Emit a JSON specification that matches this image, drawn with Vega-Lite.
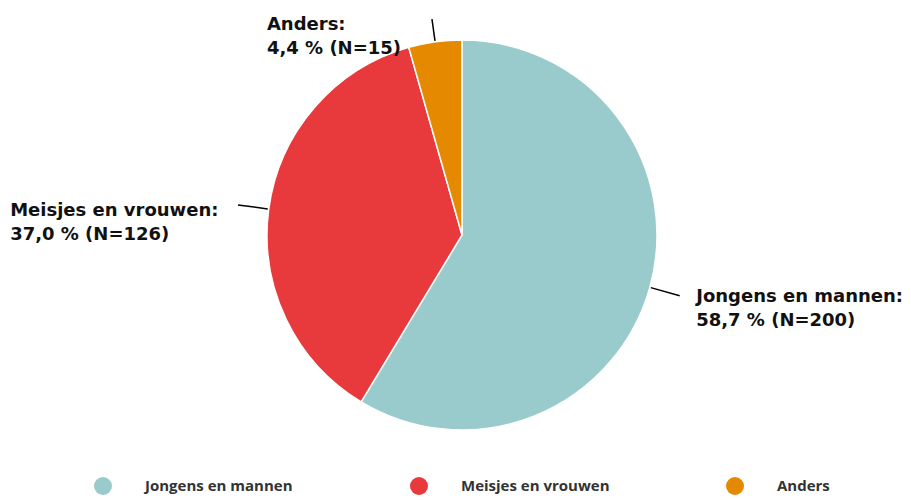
{
  "$schema": "https://vega.github.io/schema/vega-lite/v6.json",
  "width": 898,
  "height": 470,
  "padding": {"left": 10, "top": 0, "right": 0, "bottom": 0},
  "background": "white",
  "config": {
    "view": {"stroke": null},
    "legend": {"layout": {"bottom": {"anchor": "middle", "direction": "horizontal"}}}
  },
  "data": {
    "values": [
      {"category": "Jongens en mannen", "pct": 58.7, "n": 200},
      {"category": "Meisjes en vrouwen", "pct": 37.0, "n": 126},
      {"category": "Anders", "pct": 4.4, "n": 15}
    ]
  },
  "transform": [
    {"window": [{"op": "sum", "field": "n", "as": "cum"}], "frame": [null, 0]},
    {"calculate": "datum.cum - datum.n", "as": "start"},
    {"calculate": "datum.cum - datum.n / 2", "as": "mid"},
    {"calculate": "datum.category + ':\\n' + replace(format(datum.pct, '.1f'), '.', ',') + ' % (N=' + datum.n + ')'", "as": "label"}
  ],
  "layer": [
    {
      "mark": {"type": "arc", "outerRadius": 195, "innerRadius": 0, "stroke": "white", "strokeWidth": 1.5},
      "encoding": {
        "theta": {"field": "start", "type": "quantitative", "stack": null, "scale": {"domain": [0, 341]}},
        "theta2": {"field": "cum"},
        "color": {
          "field": "category",
          "type": "nominal",
          "scale": {
            "domain": ["Jongens en mannen", "Meisjes en vrouwen", "Anders"],
            "range": ["#9ACBCC", "#E83A3C", "#E58A00"]
          },
          "legend": {
            "title": null,
            "orient": "bottom",
            "direction": "horizontal",
            "symbolType": "circle",
            "symbolSize": 324,
            "symbolStrokeWidth": 0,
            "labelFont": "Open Sans",
            "labelFontSize": 15,
            "labelFontWeight": 700,
            "labelColor": "#333333",
            "labelOffset": 33,
            "columnPadding": 116,
            "gridAlign": "all",
            "offset": 7,
            "labelLimit": 400
          }
        }
      }
    },
    {
      "transform": [{"filter": "datum.category !== 'Anders'"}],
      "mark": {"type": "arc", "outerRadius": 226, "innerRadius": 196, "stroke": "black", "strokeWidth": 1.5, "fillOpacity": 0},
      "encoding": {
        "theta": {"field": "mid", "type": "quantitative", "stack": null},
        "theta2": {"field": "mid"}
      }
    },
    {
      "transform": [{"filter": "datum.category === 'Anders'"}],
      "mark": {"type": "arc", "outerRadius": 218, "innerRadius": 196, "stroke": "black", "strokeWidth": 1.5, "fillOpacity": 0},
      "encoding": {
        "theta": {"field": "mid", "type": "quantitative", "stack": null},
        "theta2": {"field": "mid"}
      }
    },
    {
      "transform": [{"filter": "datum.category === 'Jongens en mannen'"}],
      "mark": {"type": "text", "radius": 240, "align": "left", "baseline": "top", "dx": 3, "dy": -11, "lineBreak": "\n", "lineHeight": 24, "font": "DejaVu Sans", "fontWeight": "bold", "fontSize": 18, "color": "#111111"},
      "encoding": {
        "theta": {"field": "mid", "type": "quantitative", "stack": null},
        "text": {"field": "label"}
      }
    },
    {
      "transform": [{"filter": "datum.category === 'Meisjes en vrouwen'"}],
      "mark": {"type": "text", "radius": 240, "align": "left", "baseline": "top", "dx": -214, "dy": -1, "lineBreak": "\n", "lineHeight": 24, "font": "DejaVu Sans", "fontWeight": "bold", "fontSize": 18, "color": "#111111"},
      "encoding": {
        "theta": {"field": "mid", "type": "quantitative", "stack": null},
        "text": {"field": "label"}
      }
    },
    {
      "transform": [{"filter": "datum.category === 'Anders'"}],
      "mark": {"type": "text", "radius": 240, "align": "left", "baseline": "top", "dx": -162, "dy": 19, "lineBreak": "\n", "lineHeight": 24, "font": "DejaVu Sans", "fontWeight": "bold", "fontSize": 18, "color": "#111111"},
      "encoding": {
        "theta": {"field": "mid", "type": "quantitative", "stack": null},
        "text": {"field": "label"}
      }
    }
  ]
}
